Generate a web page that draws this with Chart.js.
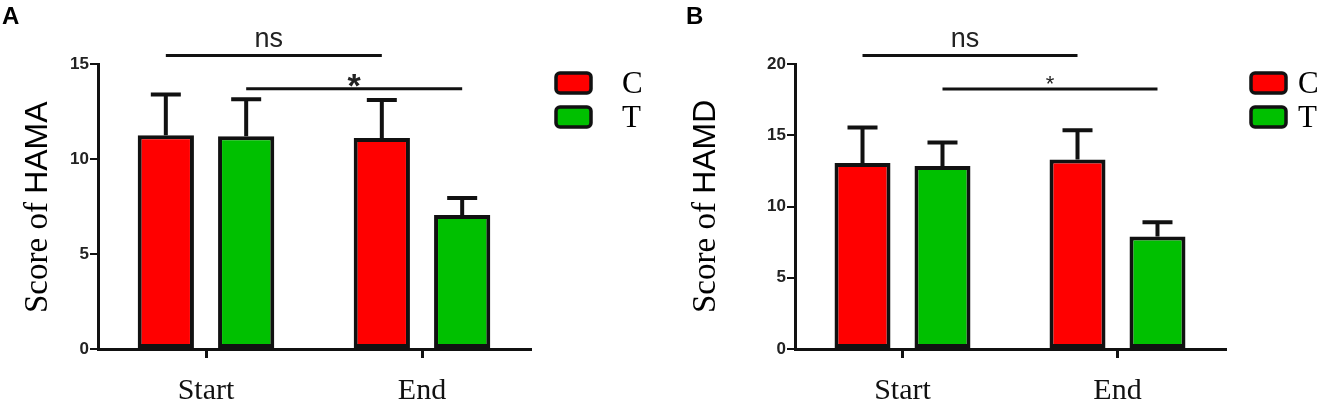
<!DOCTYPE html>
<html>
<head>
    <title>HAMA / HAMD scores</title>
    <script src="https://cdn.jsdelivr.net/npm/chart.js@4.4.0/dist/chart.umd.min.js"></script>
    <style>
        body {
            margin: 0;
            background: #fff;
            width: 1321px;
            height: 407px;
            overflow: hidden;
            position: relative;
        }
        .panel {
            position: absolute;
            top: 0;
        }
        .letter {
            position: absolute;
            top: 2px;
            font: bold 24px "Liberation Sans", Arial, sans-serif;
            color: #000;
        }
    </style>
</head>
<body>
    <canvas id="chartA" class="panel" style="left:0" width="660" height="407"></canvas>
    <canvas id="chartB" class="panel" style="left:660px" width="661" height="407"></canvas>
    <div class="letter" style="left:2px">A</div>
    <div class="letter" style="left:686px">B</div>

    <script>
        // data (mean and SD)
        const groups = ['Start', 'End'];
        const seriesNames = ['C', 'T'];
        const seriesColors = ['#ff0000', '#00c000'];

        const hamaC = [11.25, 11.1];
        const hamaCSd = [2.15, 2.0];
        const hamaT = [11.2, 7.05];
        const hamaTSd = [1.95, 0.9];

        const hamdC = [13.05, 13.3];
        const hamdCSd = [2.5, 2.05];
        const hamdT = [12.85, 7.9];
        const hamdTSd = [1.65, 1.0];

        // significance brackets: one per series, joining Start and End
        const bracketLabels = ['ns', '*'];
        const hamaBracketY = [15.45, 13.7];
        const hamdBracketY = [20.6, 18.25];

        const hamaTicks = [0, 5, 10, 15];
        const hamdTicks = [0, 5, 10, 15, 20];

        // error bars on top of each bar
        const errorBars = {
            id: 'errorBars',
            afterDatasetsDraw(chart) {
                const ctx = chart.ctx;
                const y = chart.scales.y;
                ctx.save();
                ctx.strokeStyle = '#111';
                ctx.lineWidth = 4;
                chart.data.datasets.forEach((ds, i) => {
                    chart.getDatasetMeta(i).data.forEach((bar, j) => {
                        const top = y.getPixelForValue(ds.data[j] + ds.sd[j]);
                        ctx.beginPath();
                        ctx.moveTo(bar.x, bar.y);
                        ctx.lineTo(bar.x, top);
                        ctx.moveTo(bar.x - 15, top);
                        ctx.lineTo(bar.x + 15, top);
                        ctx.stroke();
                    });
                });
                ctx.restore();
            }
        };

        // brackets, y title (two fonts), legend
        const extras = {
            id: 'extras',
            afterDraw(chart, args, opts) {
                const ctx = chart.ctx;
                const y = chart.scales.y;
                const area = chart.chartArea;
                ctx.save();

                // brackets
                opts.bracketY.forEach((v, i) => {
                    const bars = chart.getDatasetMeta(i).data;
                    const py = y.getPixelForValue(v);
                    ctx.strokeStyle = '#111';
                    ctx.lineWidth = 3;
                    ctx.beginPath();
                    ctx.moveTo(bars[0].x, py);
                    ctx.lineTo(bars[1].x, py);
                    ctx.stroke();
                    const mid = (bars[0].x + bars[1].x) / 2;
                    ctx.textAlign = 'center';
                    ctx.textBaseline = 'alphabetic';
                    ctx.fillStyle = '#222';
                    if (bracketLabels[i] === 'ns') {
                        ctx.font = '27px "Liberation Sans", Arial';
                        ctx.fillText('ns', mid - 5, py - 8);
                    } else {
                        ctx.font = opts.starFont;
                        ctx.fillText('*', mid, py + opts.starDy);
                    }
                });

                // y axis title: serif "Score of " + sans name
                ctx.translate(opts.titleX, opts.titleY);
                ctx.rotate(-Math.PI / 2);
                ctx.fillStyle = '#000';
                ctx.textAlign = 'left';
                ctx.textBaseline = 'alphabetic';
                ctx.font = '33px "Liberation Serif", "Times New Roman"';
                ctx.fillText('Score of ', 0, 0);
                const w = ctx.measureText('Score of ').width;
                ctx.font = '32px "Liberation Sans", Arial';
                ctx.fillText(opts.scoreName, w, 0);
                ctx.setTransform(1, 0, 0, 1, 0, 0);

                // legend
                const bx = area.right + 26;
                chart.data.datasets.forEach((ds, i) => {
                    const by = 73 + i * 34;
                    ctx.beginPath();
                    ctx.roundRect(bx, by, 35, 20, 4);
                    ctx.fillStyle = ds.backgroundColor;
                    ctx.fill();
                    ctx.lineWidth = 3.5;
                    ctx.strokeStyle = '#111';
                    ctx.stroke();
                    ctx.fillStyle = '#000';
                    ctx.font = '31px "Liberation Serif", "Times New Roman"';
                    ctx.textBaseline = 'middle';
                    ctx.fillText(ds.label, bx + 35 + opts.legendGap, by + 12);
                });
                ctx.restore();
            }
        };

        function makePanel(id, values, sds, ticks, opts) {
            return new Chart(document.getElementById(id), {
                type: 'bar',
                data: {
                    labels: groups,
                    datasets: seriesNames.map((name, i) => ({
                        label: name,
                        data: values[i],
                        sd: sds[i],
                        backgroundColor: seriesColors[i],
                        borderColor: '#111',
                        borderWidth: 4,
                        borderSkipped: false,
                        categoryPercentage: 0.744,
                        barPercentage: 0.7
                    }))
                },
                options: {
                    responsive: false,
                    animation: false,
                    layout: {
                        padding: { left: 0, top: 64, right: opts.padRight, bottom: 0 }
                    },
                    plugins: {
                        legend: { display: false },
                        tooltip: { enabled: false },
                        extras: opts
                    },
                    scales: {
                        x: {
                            grid: {
                                offset: false,
                                drawOnChartArea: false,
                                tickLength: 9,
                                color: '#111',
                                lineWidth: 3
                            },
                            border: { color: '#111', width: 3 },
                            ticks: {
                                color: '#111',
                                padding: 15,
                                font: { family: '"Liberation Serif", "Times New Roman"', size: 30 }
                            },
                            afterFit: s => { s.height = 58; }
                        },
                        y: {
                            min: 0,
                            max: ticks[ticks.length - 1],
                            afterBuildTicks: s => { s.ticks = ticks.map(v => ({ value: v })); },
                            grid: {
                                drawOnChartArea: false,
                                tickLength: 8,
                                color: '#111',
                                lineWidth: 2
                            },
                            border: { color: '#111', width: 3 },
                            ticks: {
                                color: '#222',
                                padding: 1,
                                font: { family: '"Liberation Sans", Arial', size: 17, weight: 'bold' }
                            },
                            afterFit: s => { s.width = opts.axisLeft; }
                        }
                    }
                },
                plugins: [errorBars, extras]
            });
        }

        makePanel('chartA', [hamaC, hamaT], [hamaCSd, hamaTSd], hamaTicks, {
            axisLeft: 98, padRight: 130, bracketY: hamaBracketY,
            scoreName: 'HAMA', titleX: 47, titleY: 313, legendGap: 31,
            starFont: 'bold 34px "Liberation Sans", Arial', starDy: 8
        });

        makePanel('chartB', [hamdC, hamdT], [hamdCSd, hamdTSd], hamdTicks, {
            axisLeft: 135, padRight: 96, bracketY: hamdBracketY,
            scoreName: 'HAMD', titleX: 55, titleY: 313, legendGap: 12,
            starFont: '22px "Liberation Sans", Arial', starDy: 2
        });
    </script>
</body>
</html>
